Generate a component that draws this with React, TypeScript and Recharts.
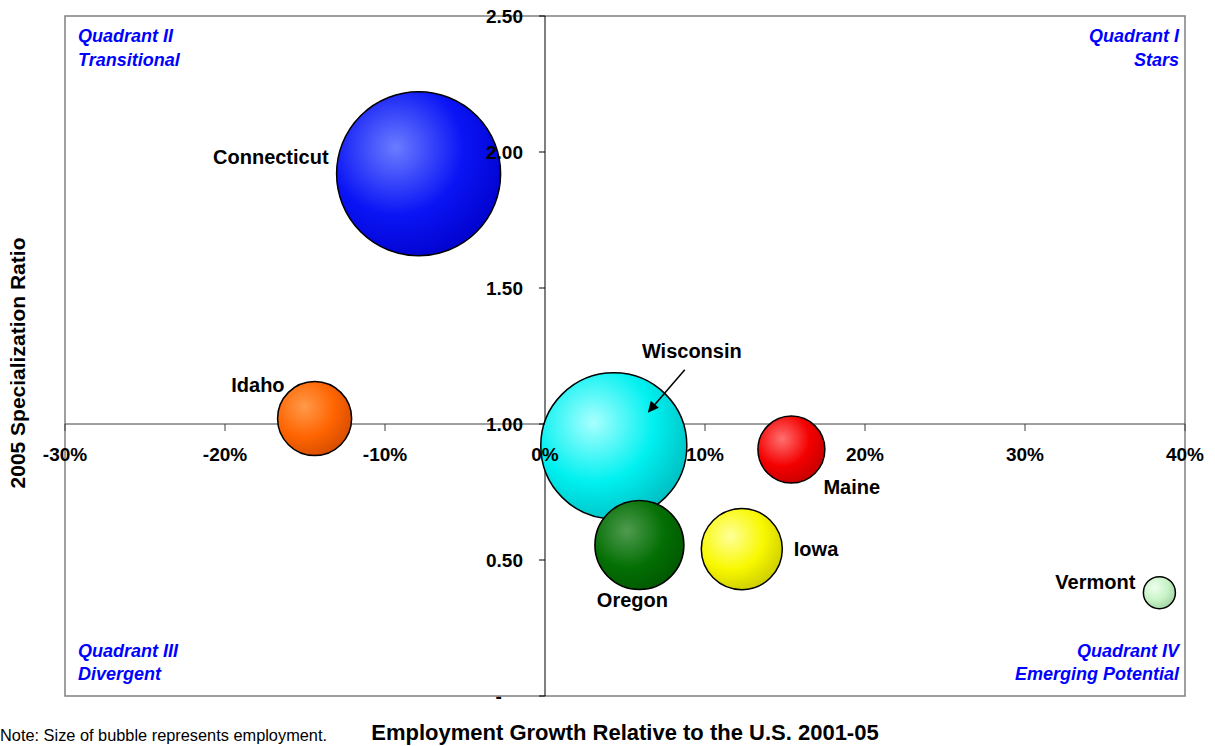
import { ScatterChart, Scatter, XAxis, YAxis, ZAxis, ReferenceLine, ReferenceArea, ReferenceDot } from 'recharts'

// bubble data
const states = ['Connecticut', 'Wisconsin', 'Oregon', 'Iowa', 'Idaho', 'Maine', 'Vermont']
const growth = [-7.9, 4.3, 5.9, 12.3, -14.4, 15.4, 38.4] // employment growth rel. to U.S., %
const ratio = [1.92, 0.92, 0.555, 0.54, 1.02, 0.906, 0.38] // 2005 specialization ratio
const employment = [6720, 5330, 1980, 1640, 1370, 1120, 256]

const xTicks = [-30, -20, -10, 0, 10, 20, 30, 40]
const yTicks = [0, 0.5, 1, 1.5, 2, 2.5]

const data = states.map((name, i) => ({ name, growth: growth[i], ratio: ratio[i], employment: employment[i] }))

// styling per state: [highlight, base, edge]
const colors: Record<string, [string, string, string]> = {
  Connecticut: ['#6a7cff', '#0a14f5', '#0000c8'],
  Wisconsin: ['#a8ffff', '#00f0f0', '#00b8bc'],
  Oregon: ['#4f9a4f', '#047004', '#005500'],
  Iowa: ['#ffff9a', '#f8f800', '#c8c800'],
  Idaho: ['#ff9a4a', '#ff6400', '#d04a00'],
  Maine: ['#ff7070', '#f40000', '#c00000'],
  Vermont: ['#eeffee', '#c6f2c6', '#a0d0a0'],
}

const labelPlacement: Record<string, { dx: number; dy: number; anchor: 'start' | 'middle' | 'end' }> = {
  Connecticut: { dx: -90, dy: -10, anchor: 'end' },
  Idaho: { dx: -30, dy: -27, anchor: 'end' },
  Wisconsin: { dx: 78, dy: -88, anchor: 'middle' },
  Maine: { dx: 32, dy: 44, anchor: 'start' },
  Iowa: { dx: 52, dy: 7, anchor: 'start' },
  Oregon: { dx: -7, dy: 62, anchor: 'middle' },
  Vermont: { dx: -24, dy: -4, anchor: 'end' },
}

const FONT = '"Liberation Sans", Arial, sans-serif'
const gid = (name: string) => `grad-${name}`

function Bubble(props: any) {
  const { cx, cy, size, payload } = props
  const r = Math.sqrt(Math.max(size, 0) / Math.PI)
  return <circle cx={cx} cy={cy} r={r} fill={`url(#${gid(payload.name)})`} stroke="#000" strokeWidth={1.5} />
}

function BubbleLabel(props: any) {
  const { cx, cy, payload } = props
  const p = labelPlacement[payload.name]
  return (
    <g>
      <text x={cx + p.dx} y={cy + p.dy} textAnchor={p.anchor} fontFamily={FONT} fontWeight="bold" fontSize={20} fill="#000">
        {payload.name}
      </text>
      {payload.name === 'Wisconsin' && (
        <g>
          <line x1={cx + 71} y1={cy - 76} x2={cx + 40} y2={cy - 40} stroke="#000" strokeWidth={1.5} />
          <polygon points={`${cx + 34},${cy - 33} ${cx + 37},${cy - 45} ${cx + 45},${cy - 38}`} fill="#000" />
        </g>
      )}
    </g>
  )
}

const XTick = (v: number) => (props: any) => (
  <g>
    {v !== 0 && <line x1={props.cx} y1={props.cy} x2={props.cx} y2={props.cy + 7} stroke="#404040" strokeWidth={1} />}
    <text x={props.cx} y={props.cy + 37} textAnchor="middle" fontFamily={FONT} fontWeight="bold" fontSize={19} fill="#000">
      {`${v}%`}
    </text>
  </g>
)

const YTick = (v: number) => (props: any) => (
  <g>
    <line x1={props.cx - 6} y1={props.cy} x2={props.cx} y2={props.cy} stroke="#000" strokeWidth={1} />
    <text x={props.cx - 22} y={props.cy + 7} textAnchor="end" fontFamily={FONT} fontWeight="bold" fontSize={19} fill="#000" style={{ whiteSpace: 'pre' }}>
      {v === 0 ? '-\u2007\u2007' : v.toFixed(2)}
    </text>
  </g>
)

const quadrantStyle = { fontFamily: FONT, fontWeight: 'bold' as const, fontStyle: 'italic' as const, fontSize: 18, fill: '#0000ff' }

export default function App() {
  return (
    <div style={{ position: 'absolute', left: 0, top: 0, width: 1215, height: 746, background: '#fff' }}>
      <ScatterChart width={1215} height={746} margin={{ top: 16, right: 30, bottom: 50, left: 65 }}>
        <defs>
          {states.map(s => (
            <radialGradient key={s} id={gid(s)} cx="0.36" cy="0.34" r="0.75" fx="0.36" fy="0.34">
              <stop offset="0%" stopColor={colors[s][0]} />
              <stop offset="55%" stopColor={colors[s][1]} />
              <stop offset="100%" stopColor={colors[s][2]} />
            </radialGradient>
          ))}
        </defs>
        <XAxis type="number" dataKey="growth" domain={[-30, 40]} ticks={xTicks} hide />
        <YAxis type="number" dataKey="ratio" domain={[0, 2.5]} ticks={yTicks} hide />
        <ZAxis type="number" dataKey="employment" domain={[0, 6720]} range={[0, Math.PI * 82 * 82]} />
        <ReferenceArea x1={-30} x2={40} y1={0} y2={2.5} fill="none" stroke="#808080" strokeWidth={1.5} ifOverflow="visible" />
        <ReferenceLine y={1} stroke="#404040" strokeWidth={1} />
        <ReferenceLine x={0} stroke="#000" strokeWidth={1} />
        <Scatter data={data} shape={Bubble} isAnimationActive={false} />
        <Scatter data={data} shape={BubbleLabel} isAnimationActive={false} />
        {xTicks.map(v => (
          <ReferenceDot key={`x${v}`} x={v} y={1} r={0} shape={XTick(v)} ifOverflow="visible" />
        ))}
        {yTicks.map(v => (
          <ReferenceDot key={`y${v}`} x={0} y={v} r={0} shape={YTick(v)} ifOverflow="visible" />
        ))}
      </ScatterChart>
      <svg width={1215} height={746} style={{ position: 'absolute', left: 0, top: 0, pointerEvents: 'none' }}>
        <text x={78} y={42} {...quadrantStyle}>Quadrant II</text>
        <text x={78} y={66} {...quadrantStyle}>Transitional</text>
        <text x={1179} y={42} textAnchor="end" {...quadrantStyle}>Quadrant I</text>
        <text x={1179} y={66} textAnchor="end" {...quadrantStyle}>Stars</text>
        <text x={78} y={657} {...quadrantStyle}>Quadrant III</text>
        <text x={78} y={680} {...quadrantStyle}>Divergent</text>
        <text x={1179} y={657} textAnchor="end" {...quadrantStyle}>Quadrant IV</text>
        <text x={1179} y={680} textAnchor="end" {...quadrantStyle}>Emerging Potential</text>
        <text x={25} y={363} transform="rotate(-90 25 363)" textAnchor="middle" fontFamily={FONT} fontWeight="bold" fontSize={21}>
          2005 Specialization Ratio
        </text>
        <text x={625} y={740} textAnchor="middle" fontFamily={FONT} fontWeight="bold" fontSize={22}>
          Employment Growth Relative to the U.S. 2001-05
        </text>
        <text x={0} y={741} fontFamily={'"Liberation Sans Narrow", "Arial Narrow", sans-serif'} fontSize={17} textLength={327} lengthAdjust="spacingAndGlyphs">
          Note: Size of bubble represents employment.
        </text>
      </svg>
    </div>
  )
}
